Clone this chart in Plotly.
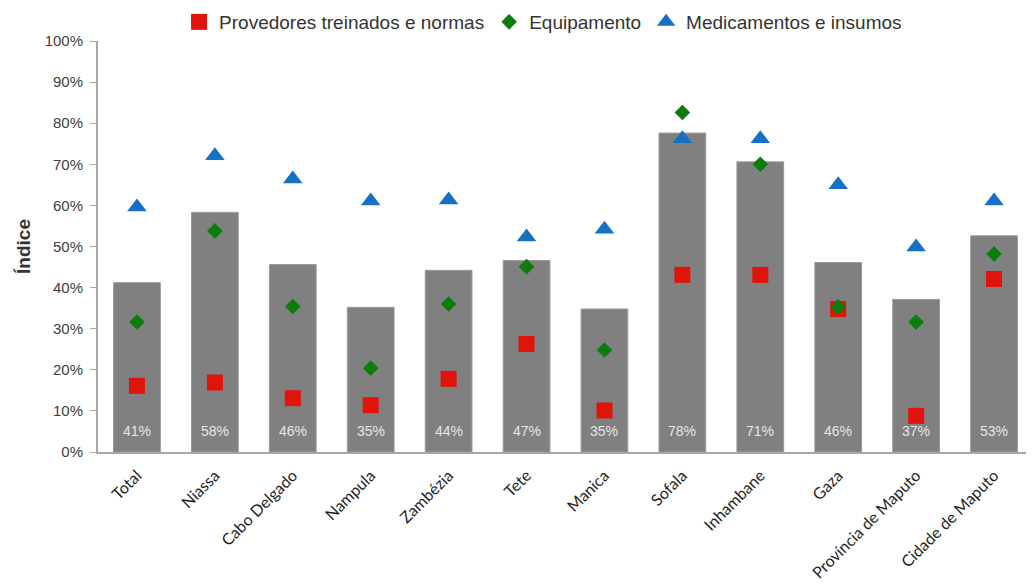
import plotly.graph_objects as go

categories = ["Total", "Niassa", "Cabo Delgado", "Nampula", "Zambézia", "Tete",
              "Manica", "Sofala", "Inhambane", "Gaza", "Província de Maputo", "Cidade de Maputo"]
indice = [41.2, 58.3, 45.6, 35.2, 44.2, 46.6, 34.8, 77.6, 70.6, 46.1, 37.1, 52.6]
provedores = [16.1, 16.9, 13.1, 11.4, 17.8, 26.3, 10.1, 43.1, 43.1, 34.8, 8.8, 42.1]
equipamento = [31.6, 53.8, 35.4, 20.4, 36.0, 45.1, 24.8, 82.6, 70.0, 35.3, 31.6, 48.2]
medicamentos = [59.6, 72.1, 66.4, 61.1, 61.3, 52.3, 54.2, 76.2, 76.2, 65.0, 49.9, 61.1]
yticks = [0, 10, 20, 30, 40, 50, 60, 70, 80, 90, 100]
ytick_labels = ["0%", "10%", "20%", "30%", "40%", "50%", "60%", "70%", "80%", "90%", "100%"]

fig = go.Figure()
fig.add_trace(go.Bar(
    x=categories, y=indice,
    marker=dict(color="#808080", line=dict(width=1, color="#9a9a9a")),
    width=0.6, showlegend=False, hoverinfo="skip",
))
fig.add_trace(go.Scatter(
    x=categories, y=provedores, mode="markers", name="Provedores treinados e normas",
    marker=dict(symbol="square", size=16, color="#e0140b"),
))
fig.add_trace(go.Scatter(
    x=categories, y=equipamento, mode="markers", name="Equipamento",
    marker=dict(symbol="diamond", size=12, color="#0a7d0a"),
))
fig.add_trace(go.Scatter(
    x=categories, y=medicamentos, mode="markers", name="Medicamentos e insumos",
    marker=dict(symbol="triangle-up", size=17, color="#1670c4"),
))

# bar value labels near the bar base
for cat, val in zip(categories, indice):
    fig.add_annotation(
        x=cat, y=0, yref="y", xref="x", text=f"{val:.0f}%", showarrow=False,
        yanchor="bottom", yshift=11,
        font=dict(color="#e6e6e6", size=14, family="Liberation Sans"),
    )

fig.update_layout(
    width=1034, height=587,
    margin=dict(l=90, r=9, t=33, b=143, autoexpand=False),
    paper_bgcolor="white", plot_bgcolor="white",
    bargap=0.4,
    font=dict(family="Liberation Sans", color="#404040"),
    legend=dict(orientation="h", x=0.476, xanchor="center", y=1.0, yanchor="bottom",
                font=dict(size=19, color="#333333"), itemwidth=30, tracegroupgap=0),
    xaxis=dict(
        showline=True, linecolor="#a6a6a6", linewidth=2, ticks="",
        tickangle=-45, tickfont=dict(family="Lato", size=16, color="#1f1f1f"),
        ticklabelstandoff=6,
        showgrid=False, range=[-0.5, 11.5], automargin=False,
    ),
    yaxis=dict(
        range=[0, 100], tickmode="array", tickvals=yticks, ticktext=ytick_labels,
        showline=True, linecolor="#a6a6a6", linewidth=2,
        ticks="outside", ticklen=6, tickcolor="#a6a6a6", tickwidth=1,
        ticklabelstandoff=4,
        showgrid=False, zeroline=False, automargin=False,
        tickfont=dict(family="Liberation Sans", size=15, color="#404040"),
        title=dict(text="<b>Índice</b>", font=dict(size=19, color="#333333"), standoff=9),
    ),
)

fig.write_html("out.html")
